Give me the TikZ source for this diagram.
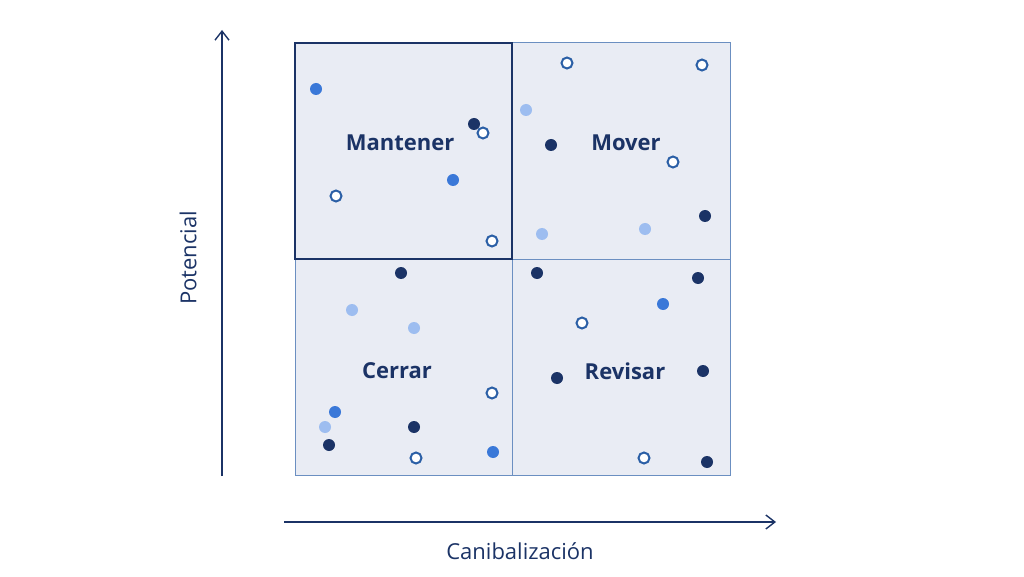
\documentclass[tikz,border=0pt]{standalone}
\usepackage{fontspec}
\setmainfont{Open Sans}
\usetikzlibrary{arrows.meta}
\definecolor{navy}{HTML}{1B3366}
\definecolor{midblue}{HTML}{3A78D8}
\definecolor{lightblue}{HTML}{9DBDF0}
\definecolor{cellfill}{HTML}{E9ECF4}
\definecolor{ringblue}{HTML}{2B5FA6}
\tikzset{
  cell/.style={draw=ringblue!70, fill=cellfill, line width=1pt},
  quad/.style={font=\fontsize{22}{24}\selectfont\bfseries, text=navy},
  axislabel/.style={font=\fontsize{22}{24}\selectfont, text=navy},
  axis/.style={draw=navy, line width=1.4pt, -{Straight Barb[length=9pt,width=14pt]}},
}
\def\dotr{6}
\begin{document}
\begin{tikzpicture}[x=1pt, y=-1pt]
  \useasboundingbox (0,0) rectangle (1024,577);
  % cells
  \draw[cell] (295,43) rectangle (512,259);
  \draw[cell] (512,43) rectangle (730,259);
  \draw[cell] (295,259) rectangle (512,475);
  \draw[cell] (512,259) rectangle (730,475);
  \draw[draw=navy, line width=2.2pt] (295,43) rectangle (512,259);
  % axes
  \coordinate (ybot) at (222,476);
  \coordinate (ytop) at (222,30);
  \coordinate (xl) at (284,522);
  \coordinate (xr) at (776,522);
  \draw[axis] (ybot) -- (ytop);
  \draw[axis] (xl) -- (xr);
  \node[axislabel, rotate=90] (pot) at (188,258) {Potencial};
  \node[axislabel] (can) at (520,551) {Canibalización};
  % dots
  \foreach\x/\y in {474/124, 551/145, 705/216, 401/273, 414/427, 329/445,
                    537/273, 698/278, 557/378, 703/371, 707/462}
    \fill[navy] (\x,\y) circle (\dotr);
  \foreach\x/\y in {316/89, 453/180, 335/412, 493/452, 663/304}
    \fill[midblue] (\x,\y) circle (\dotr);
  \foreach\x/\y in {526/110, 542/234, 645/229, 352/310, 414/328, 325/427}
    \fill[lightblue] (\x,\y) circle (\dotr);
  \foreach\x/\y in {483/133, 336/196, 492/241, 567/63, 702/65, 673/162,
                    492/393, 416/458, 582/323, 644/458}
    \draw[ringblue, fill=white, line width=2pt] (\x,\y) circle (5.5);
  % labels
  \node[quad] (man) at (400,143) {Mantener};
  \node[quad] (mov) at (626,143) {Mover};
  \node[quad] (cer) at (397,371) {Cerrar};
  \node[quad] (rev) at (625,371) {Revisar};
\end{tikzpicture}
\end{document}
